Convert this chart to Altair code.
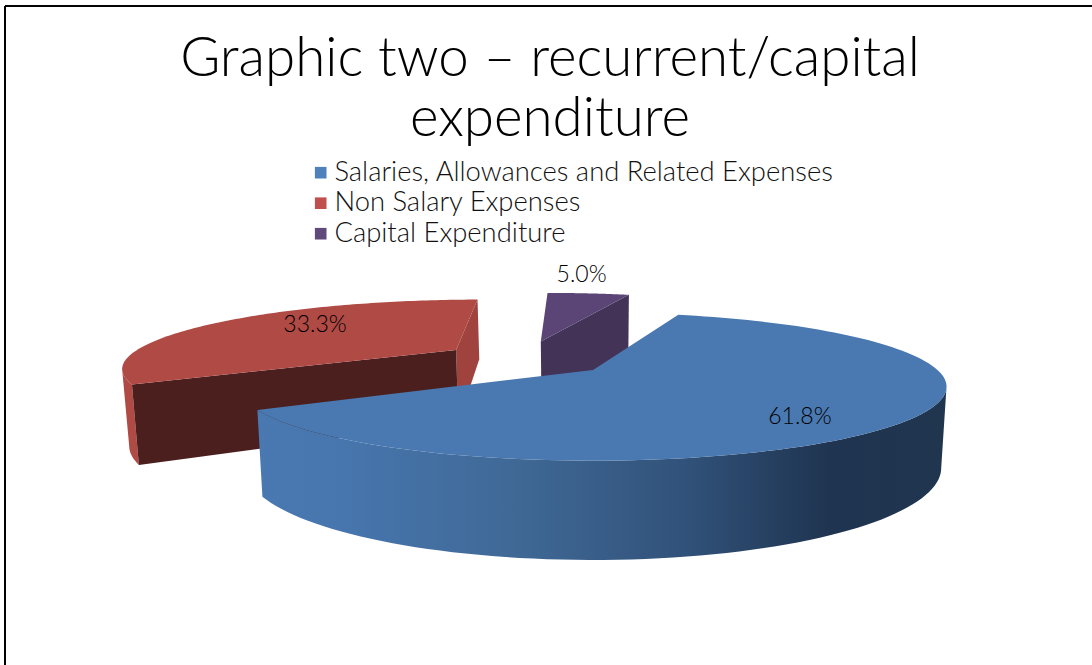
import math
import altair as alt
import pandas as pd

# Chart content
TITLE_LINES = ["Graphic two – recurrent/capital", "expenditure"]
categories = ["Salaries, Allowances and Related Expenses", "Non Salary Expenses", "Capital Expenditure"]
shares = [61.8, 33.3, 5.0]

# Colours
LEGEND_COLORS = ["#4F81BD", "#C0504D", "#604A7B"]
TOP = ["#4A78B0", "#B04A45", "#5B4577"]
RED_SIDE = "#B04A45"
RED_CUT = "#A0423E"
RED_WALL = "#4B1F1E"
PURPLE_WALL = "#433357"
FONT = "Lato"

# Perspective camera: unit pie on a plane, tilted and receding towards the back
CX, CY = 593.0, 370.0
SCALE_X, SCALE_Y, PERSP = 348.0, 71.0, 0.227
DEPTH, BASE_SHRINK = 77.0, 0.985
START_ANGLE = 17.5
EXPLODE = [(0.0, 0.0), (-0.42, 0.30), (-0.165, 0.44)]
RADII = [0.99, 0.98, 1.0]
LABEL_ANCHORS = [(0.517, -0.575), (-0.933, 0.74), (-0.047, 1.92)]


def project(wx, wy, base=False):
    den = 1 + PERSP * wy
    x = SCALE_X * wx / den
    y = SCALE_Y * wy / den
    if base:
        return CX + x * BASE_SHRINK, CY - y + DEPTH / den
    return CX + x, CY - y


def rim(i, a0, a1, base=False, n=120):
    ox, oy = EXPLODE[i]
    r = RADII[i]
    pts = []
    for k in range(n + 1):
        a = math.radians(a0 + (a1 - a0) * k / n)
        pts.append(project(ox + r * math.sin(a), oy + r * math.cos(a), base))
    return pts


def apex(i, base=False):
    return project(*EXPLODE[i], base)


def polygon(points, fill):
    closed = list(points) + [points[0]]
    df = pd.DataFrame({"x": [p[0] for p in closed], "y": [p[1] for p in closed], "i": range(len(closed))})
    return alt.Chart(df).mark_line(fill=fill, stroke=None, strokeWidth=0, interpolate="linear", clip=False).encode(
        x=alt.X("x:Q", scale=X_SCALE, axis=None),
        y=alt.Y("y:Q", scale=Y_SCALE, axis=None),
        order="i:Q",
    )


X_SCALE = alt.Scale(domain=[0, 1092], nice=False, zero=False)
Y_SCALE = alt.Scale(domain=[665, 0], nice=False, zero=False)

# Slice boundaries, clockwise from the start angle
bounds = [START_ANGLE]
for s in shares:
    bounds.append(bounds[-1] + s / sum(shares) * 360)
spans = list(zip(bounds[:-1], bounds[1:]))

side_gradient = alt.LinearGradient(
    gradient="linear", x1=0, x2=1, y1=0, y2=0,
    stops=[
        alt.GradientStop(offset=0.0, color="#4A79B2"),
        alt.GradientStop(offset=0.12, color="#4776AE"),
        alt.GradientStop(offset=0.38, color="#3F6895"),
        alt.GradientStop(offset=0.62, color="#31527A"),
        alt.GradientStop(offset=0.83, color="#1F3450"),
        alt.GradientStop(offset=1.0, color="#20364F"),
    ],
)

layers = []

# Capital expenditure: cut wall, then top
a0, a1 = spans[2]
layers.append(polygon([apex(2), rim(2, a0, a1)[-1], rim(2, a0, a1, True)[-1], apex(2, True)], PURPLE_WALL))
layers.append(polygon([apex(2)] + rim(2, a0, a1), TOP[2]))

# Non salary expenses: outer side up to the left silhouette, back cut, front wall, top
a0, a1 = spans[1]
top_rim, base_rim = rim(1, a0, a1), rim(1, a0, a1, True)
edge = min(range(len(top_rim)), key=lambda k: top_rim[k][0])
layers.append(polygon(top_rim[:edge + 1] + base_rim[:edge + 1][::-1], RED_SIDE))
layers.append(polygon([apex(1), top_rim[-1], base_rim[-1], apex(1, True)], RED_CUT))
layers.append(polygon([apex(1), top_rim[0], base_rim[0], apex(1, True)], RED_WALL))
layers.append(polygon([apex(1)] + top_rim, TOP[1]))

# Salaries: shaded outer side from the right silhouette onwards, then top
a0, a1 = spans[0]
top_rim, base_rim = rim(0, a0, a1), rim(0, a0, a1, True)
edge = max(range(len(top_rim)), key=lambda k: top_rim[k][0])
layers.append(polygon(top_rim[edge:] + base_rim[edge:][::-1], side_gradient))
layers.append(polygon([apex(0)] + top_rim, TOP[0]))

# Percentage labels
label_df = pd.DataFrame({
    "x": [project(*p)[0] for p in LABEL_ANCHORS],
    "y": [project(*p)[1] for p in LABEL_ANCHORS],
    "label": [f"{s:.1f}%" for s in shares],
})
layers.append(
    alt.Chart(label_df).mark_text(font=FONT, fontSize=23, fontWeight=300, color="#000000", align="center", baseline="middle").encode(
        x=alt.X("x:Q", scale=X_SCALE, axis=None),
        y=alt.Y("y:Q", scale=Y_SCALE, axis=None),
        text="label:N",
    )
)

# Legend carrier
legend_df = pd.DataFrame({"category": categories})
layers.append(
    alt.Chart(legend_df).mark_point(shape="square", filled=True, opacity=0, size=1).encode(
        x=alt.value(0),
        y=alt.value(0),
        fill=alt.Fill(
            "category:N",
            scale=alt.Scale(domain=categories, range=LEGEND_COLORS),
            legend=alt.Legend(
                title=None, orient="none", legendX=307, legendY=159, direction="vertical",
                symbolType="square", symbolSize=135, symbolOpacity=1, symbolStrokeWidth=0,
                labelFont=FONT, labelFontSize=27.4, labelFontWeight=300, labelColor="#111111", labelLimit=700,
                rowPadding=1.5, labelOffset=0,
            ),
        ),
    )
)

# Slide frame along the left and top edges
layers.append(alt.Chart(legend_df).mark_rule(color="#000000", strokeWidth=1.6).encode(
    x=alt.value(5), y=alt.value(6), y2=alt.value(665)))
layers.append(alt.Chart(legend_df).mark_rule(color="#000000", strokeWidth=1.6).encode(
    y=alt.value(6), x=alt.value(5), x2=alt.value(1092)))

chart = (
    alt.layer(*layers)
    .properties(
        width=1092,
        height=665,
        padding=0,
        autosize=alt.AutoSizeParams(type="none"),
        title=alt.TitleParams(
            text=TITLE_LINES, font=FONT, fontSize=54.7, fontWeight=300, color="#000000",
            anchor="middle", baseline="top", lineHeight=60, dy=118, dx=4, orient="top", offset=-30,
        ),
    )
    .configure_view(stroke=None)
)

chart.save("out.html", embed_options={"renderer": "svg", "actions": False})
